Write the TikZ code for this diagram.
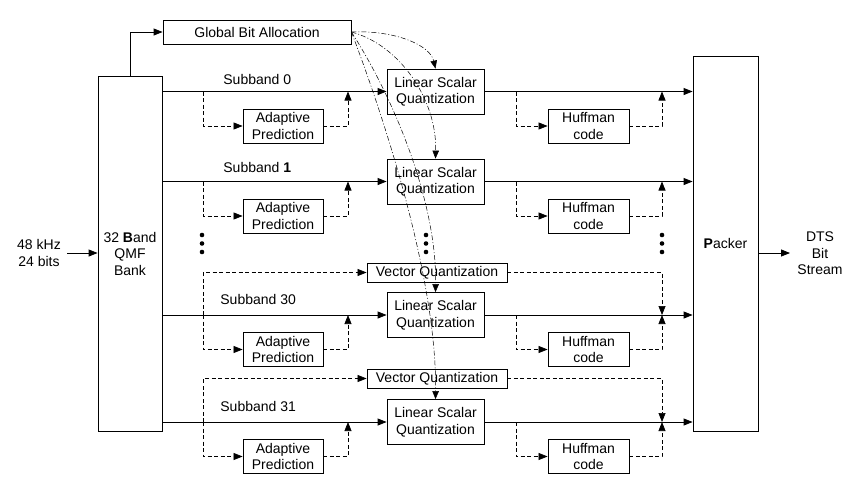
\documentclass[tikz,border=0pt]{standalone}
\usepackage{fontspec}
\setmainfont{Liberation Sans}
\usetikzlibrary{arrows.meta,calc}
\begin{document}
\begin{tikzpicture}[x=1pt,y=-1pt,
  font=\fontsize{14}{16.5}\selectfont,
  line width=0.8pt,
  >={Triangle[length=9pt,width=7pt]},
  box/.style={draw, rectangle, inner sep=0pt, align=center},
  dsh/.style={dash pattern=on 4pt off 2.5pt, line width=0.7pt},
  dd/.style={dash pattern=on 5pt off 2pt on 1pt off 2pt, line width=0.5pt, >={Triangle[length=8pt,width=6.5pt]}},
  lbl/.style={inner sep=0pt, anchor=west}]
\useasboundingbox (0,0) rectangle (862,488);

% main blocks
\node[box, minimum width=64pt, minimum height=355pt] (qmf) at (130,253.5) {32 \textbf{B}and\\QMF\\Bank};
\node[box, minimum width=188pt, minimum height=24pt] (gba) at (257,32) {Global Bit Allocation};
\node[box, minimum width=65pt, minimum height=375pt] (pk) at (725.5,243.5) {\textbf{P}acker};

% input / output
\node[inner sep=0pt, align=center] (inlbl) at (39,253) {48 kHz\\24 bits};
\coordinate (in) at (67,253);
\draw[->] (in) -- (qmf.west|-in);
\node[inner sep=0pt, align=center] (dts) at (820,253.5) {DTS\\Bit\\Stream};
\coordinate (out) at (790,253);
\draw[->] (pk.east|-out) -- (out);

\draw[->] (qmf.north) |- (gba.west);

% subband rows
\foreach \n/\y in {0/91.5,1/181.5,30/315,31/422}{
  \node[box, minimum width=97pt, minimum height=45pt] (lsq\n) at (435.5,\y) {Linear Scalar\\Quantization};
  \node[box, minimum width=80pt, minimum height=34pt] (ap\n) at (283,\y+34.5) {Adaptive\\Prediction};
  \node[box, minimum width=81pt, minimum height=34pt] (hc\n) at (588.5,\y+34.5) {Huffman\\code};
  \coordinate (bl\n) at (203,\y);
  \coordinate (ml\n) at (348,\y);
  \coordinate (br\n) at (516,\y);
  \coordinate (mr\n) at (662,\y);
  \draw[->] (qmf.east|-lsq\n.west) -- (lsq\n.west);
  \draw[->] (lsq\n.east) -- (pk.west|-lsq\n.east);
  \draw[dsh,->] (bl\n) |- (ap\n.west);
  \draw[dsh,->] (ap\n.east) -| (ml\n);
  \draw[dsh,->] (br\n) |- (hc\n.west);
  \draw[dsh,->] (hc\n.east) -| (mr\n);
}

% subband labels
\node[lbl] (s0) at (223,79) {Subband 0};
\node[lbl] (s1) at (223,167) {Subband \textbf{1}};
\node[lbl] (s30) at (220,299) {Subband 30};
\node[lbl] (s31) at (220,406) {Subband 31};

% vector quantization
\node[box, minimum width=140pt, minimum height=19pt] (vq30) at (437,272.5) {Vector Quantization};
\node[box, minimum width=140pt, minimum height=19pt] (vq31) at (437,378.5) {Vector Quantization};
\draw[dsh,->] (bl30) |- (vq30.west);
\draw[dsh,->] (vq30.east) -| (mr30);
\draw[dsh,->] (bl31) |- (vq31.west);
\draw[dsh,->] (vq31.east) -| (mr31);

% ellipsis dots
\foreach \x in {202,426,662}{
  \foreach \yy in {235,243.5,252}{
    \fill (\x,\yy) circle (2.3pt);
  }
}

% bit allocation curves
\draw[dd,->] (gba.east) .. controls (395,30) and (430,45) .. (lsq0.north);
\draw[dd,->] (gba.east) .. controls (400,45) and (437,100) .. (lsq1.north);
\draw[dd,->] (gba.east) .. controls (392,95) and (437,200) .. (lsq30.north);
\draw[dd,->] (gba.east) .. controls (385,120) and (437,280) .. (lsq31.north);
\end{tikzpicture}
\end{document}
